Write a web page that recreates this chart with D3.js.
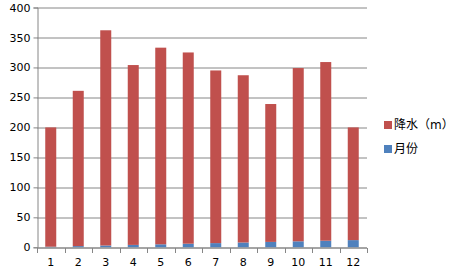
<!DOCTYPE html>
<html>
<head>
<meta charset="utf-8">
<script src="https://cdn.jsdelivr.net/npm/d3@7"></script>
<style>
  body { margin: 0; background: #fff; }
  text { font-family: "DejaVu Sans", "Noto Sans CJK SC", sans-serif; }
</style>
</head>
<body>
<div id="chart"></div>
<script>
// data
const months = ["1","2","3","4","5","6","7","8","9","10","11","12"];
const monthVals = [1,2,3,4,5,6,7,8,9,10,11,12];
const rainVals = [199,259,359,300,328,319,288,279,230,289,298,188];
const yTicks = [0,50,100,150,200,250,300,350,400];
const seriesNames = ["月份","降水（m）"];
const seriesColors = ["#4F81BD","#C0504D"];

const W = 456, H = 272;
const margin = {top: 7.5, left: 37, bottom: 24.7, right: 89};
const width = W - margin.left - margin.right;
const height = H - margin.top - margin.bottom;

const svg = d3.select("#chart")
  .append("svg")
  .attr("width", W)
  .attr("height", H)
  .append("g")
  .attr("transform", `translate(${margin.left}, ${margin.top})`);

const rows = months.map((m,i) => ({m: m, a: monthVals[i], b: rainVals[i]}));
const stack = d3.stack().keys(["a","b"])(rows);

const xScale = d3.scaleBand().domain(months).range([0, width]).paddingInner(0.6).paddingOuter(0.3);
const yScale = d3.scaleLinear().domain([0, 400]).range([height, 0]);

// gridlines
svg.append("g")
  .selectAll("line")
  .data(yTicks)
  .enter()
  .append("line")
  .attr("x1", 0).attr("x2", width)
  .attr("y1", d => Math.round(yScale(d)) + 0.5)
  .attr("y2", d => Math.round(yScale(d)) + 0.5)
  .attr("stroke", "#868686");

// bars
svg.selectAll(".series")
  .data(stack)
  .enter()
  .append("g")
  .attr("fill", (d,i) => seriesColors[i])
  .selectAll("rect")
  .data(d => d)
  .enter()
  .append("rect")
  .attr("x", d => xScale(d.data.m))
  .attr("width", xScale.bandwidth())
  .attr("y", d => yScale(d[1]))
  .attr("height", d => yScale(d[0]) - yScale(d[1]));

// y axis
const yAxis = svg.append("g")
  .attr("transform", "translate(0.5,0)")
  .call(d3.axisLeft(yScale).tickValues(yTicks).tickSize(4).tickPadding(3));
yAxis.selectAll("line").attr("stroke", "#868686");
yAxis.select(".domain").attr("stroke", "#868686");
yAxis.selectAll("text").attr("font-size", 11).attr("fill", "#000")
  .attr("font-family", "DejaVu Sans");

// x axis
const bounds = d3.range(13).map(i => i * width / 12);
const xg = svg.append("g").attr("transform", `translate(0, ${Math.round(height) + 0.5})`);
xg.append("line").attr("x1", 0).attr("x2", width).attr("stroke", "#868686");
xg.selectAll(".tk")
  .data(bounds)
  .enter()
  .append("line")
  .attr("x1", d => Math.round(d) + 0.5).attr("x2", d => Math.round(d) + 0.5)
  .attr("y1", 0).attr("y2", 5)
  .attr("stroke", "#868686");
xg.selectAll(".lbl")
  .data(months)
  .enter()
  .append("text")
  .attr("x", d => xScale(d) + xScale.bandwidth() / 2)
  .attr("y", 18)
  .attr("text-anchor", "middle")
  .attr("font-size", 11)
  .attr("fill", "#000")
  .text(d => d);

// legend
const legend = svg.append("g").attr("transform", `translate(${width + 17}, 0)`);
const legendItems = [1, 0];
legendItems.forEach((k, i) => {
  const y = 117.5 + i * 24;
  legend.append("rect")
    .attr("x", 0).attr("y", y - 4)
    .attr("width", 8).attr("height", 8)
    .attr("fill", seriesColors[k]);
  legend.append("text")
    .attr("x", 10).attr("y", y)
    .attr("dominant-baseline", "central")
    .attr("font-size", 12)
    .attr("font-family", "Noto Sans CJK SC")
    .attr("fill", "#000")
    .text(seriesNames[k]);
});
</script>
</body>
</html>
